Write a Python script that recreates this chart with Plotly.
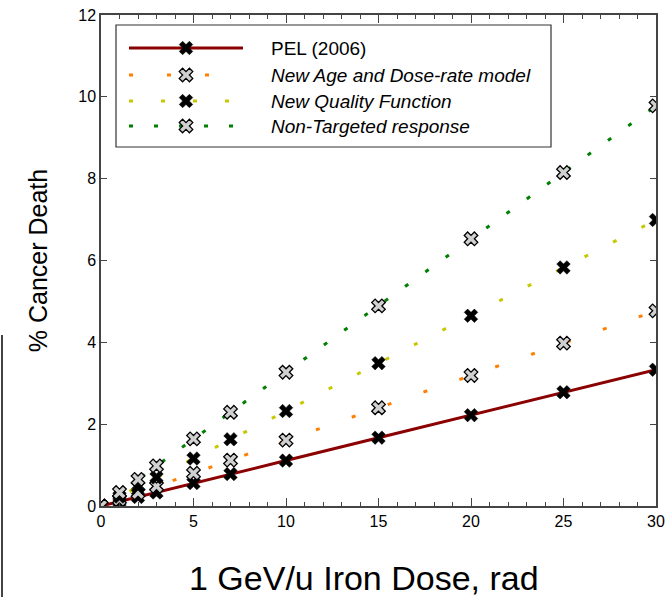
import plotly.graph_objects as go

dose = [0, 1, 2, 3, 5, 7, 10, 15, 20, 25, 30]
pel = [0, 0.11, 0.22, 0.33, 0.56, 0.78, 1.11, 1.67, 2.22, 2.78, 3.33]
age_dose_rate = [0, 0.16, 0.32, 0.48, 0.80, 1.12, 1.61, 2.40, 3.19, 3.98, 4.77]
quality = [0, 0.23, 0.47, 0.70, 1.16, 1.63, 2.32, 3.49, 4.65, 5.83, 6.99]
non_targeted = [0, 0.33, 0.65, 0.98, 1.64, 2.29, 3.27, 4.89, 6.53, 8.15, 9.78]

series_names = ["PEL (2006)", "<i>New Age and Dose-rate model</i>",
                "<i>New Quality Function</i>", "<i>Non-Targeted response</i>"]
series_values = [pel, age_dose_rate, quality, non_targeted]

x_ticks = [0, 5, 10, 15, 20, 25, 30]
y_ticks = [0, 2, 4, 6, 8, 10, 12]
x_title = "1 GeV/u Iron Dose, rad"
y_title = "% Cancer Death"

FONT = "Liberation Sans, Arial, sans-serif"

colors = ["#8B0000", "#FF7F00", "#C8C800", "#008000"]
dashes = ["solid", "4px,34px", "4px,28px", "4px,21px"]
black_x = dict(symbol="x", size=12, color="black", line=dict(color="black", width=0.5))
gray_x = dict(symbol="x", size=12, color="#d0d0d0", line=dict(color="black", width=1.3))
markers = [black_x, gray_x, black_x, gray_x]

# plot-area pixel geometry (used for the overlay frame that hosts the legend)
L, R, T, B = 101, 656, 15, 506

fig = go.Figure()

for name, vals, c, d, m in zip(series_names, series_values, colors, dashes, markers):
    fig.add_trace(go.Scatter(x=dose, y=vals, name=name, mode="lines+markers",
                             line=dict(color=c, width=3, dash=d), marker=m,
                             showlegend=False))

# hand-built legend on an overlay frame measured in pixels
leg_rows = [48, 75, 101, 126]
leg_x0, leg_x1, leg_mid, leg_text = 129, 243, 186, 269
annotations = []
for name, c, d, m, ry in zip(series_names, colors, dashes, markers, leg_rows):
    fig.add_trace(go.Scatter(x=[leg_x0, leg_x1], y=[ry, ry], mode="lines",
                             line=dict(color=c, width=3, dash=d),
                             xaxis="x2", yaxis="y2", showlegend=False, hoverinfo="skip"))
    fig.add_trace(go.Scatter(x=[leg_mid], y=[ry], mode="markers", marker=m,
                             xaxis="x2", yaxis="y2", showlegend=False, hoverinfo="skip"))
    annotations.append(dict(x=leg_text, y=ry, xref="x2", yref="y2", text=name,
                            showarrow=False, xanchor="left", yanchor="middle",
                            font=dict(family=FONT, size=19, color="black")))

# x-axis title (placed slightly left of centre, as in the original)
annotations.append(dict(x=(364 - L) / (R - L), y=-(578 - B) / (B - T), xref="paper", yref="paper",
                        text=x_title, showarrow=False, xanchor="center", yanchor="middle",
                        font=dict(family=FONT, size=34, color="black")))

axis_common = dict(showline=True, linecolor="#444", linewidth=1.5, mirror="ticks",
                   ticks="inside", tickcolor="#444", showgrid=False, zeroline=False,
                   automargin=False,
                   tickfont=dict(family=FONT, size=16, color="black"))

fig.update_xaxes(range=[0, 30], tickvals=x_ticks, ticklen=8,
                 minor=dict(dtick=1, ticks="inside", ticklen=4, tickcolor="#444"),
                 **axis_common)
fig.update_yaxes(range=[0, 12], tickvals=y_ticks, ticklen=6,
                 title=dict(text=y_title,
                            font=dict(family=FONT, size=25, color="black"), standoff=24),
                 **axis_common)

fig.update_layout(
    width=669, height=600,
    margin=dict(l=L, r=669 - R, t=T, b=600 - B),
    plot_bgcolor="white", paper_bgcolor="white",
    font=dict(family=FONT, color="black"),
    showlegend=False,
    xaxis2=dict(overlaying="x", range=[L, R], visible=False, fixedrange=True),
    yaxis2=dict(overlaying="y", range=[B, T], visible=False, fixedrange=True),
    annotations=annotations,
    shapes=[
        dict(type="rect", xref="x2", yref="y2", x0=116, x1=551, y0=25, y1=147,
             line=dict(color="#333", width=1.2), fillcolor="rgba(0,0,0,0)", layer="below"),
        dict(type="line", xref="paper", yref="paper",
             x0=(2 - L) / (R - L), x1=(2 - L) / (R - L),
             y0=(B - 335) / (B - T), y1=(B - 597) / (B - T),
             line=dict(color="#444", width=2)),
    ],
)

fig.write_html("out.html", config={"displayModeBar": False},
               post_script="document.body.style.margin='0';")
